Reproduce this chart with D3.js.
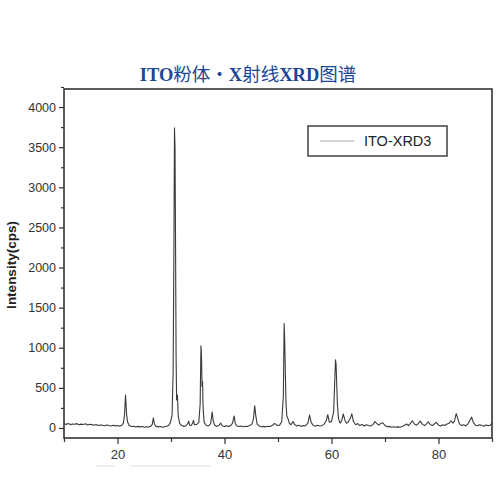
<!DOCTYPE html>
<html>
<head>
<meta charset="utf-8">
<script src="https://cdn.jsdelivr.net/npm/d3@7"></script>
<style>
  body { margin: 0; background: #fff; }
  text { font-family: "Liberation Sans", Arial, sans-serif; }
</style>
</head>
<body>
<script>
// 2-theta (deg) vs intensity (cps)
let xrdPoints = [
  [10.0,52],[10.4,45],[10.8,55],[11.2,42],[11.6,50],[12.0,46],[12.4,54],[12.8,40],[13.2,48],[13.6,44],
  [14.0,52],[14.4,38],[14.8,46],[15.2,42],[15.6,35],[16.0,44],[16.4,30],[16.8,38],[17.2,34],[17.6,28],
  [18.0,36],[18.4,30],[18.8,25],[19.2,33],[19.6,26],[20.0,30],[20.4,22],[20.8,35],[21.1,60],[21.3,150],
  [21.5,410],[21.7,170],[21.9,70],[22.2,30],[22.6,18],[23.0,22],[23.4,12],[23.8,20],[24.2,14],[24.6,18],
  [25.0,10],[25.4,16],[25.8,12],[26.2,20],[26.5,45],[26.7,125],[26.9,50],[27.2,20],[27.6,14],[28.0,18],
  [28.4,10],[28.8,16],[29.2,22],[29.6,35],[29.9,70],[30.2,160],[30.4,700],[30.55,2300],[30.65,3740],[30.75,3500],
  [30.85,2300],[30.95,900],[31.05,350],[31.2,410],[31.35,150],[31.6,60],[32.0,30],[32.4,20],[32.8,28],[33.1,50],
  [33.3,85],[33.5,35],[33.8,30],[34.0,55],[34.2,95],[34.4,40],[34.8,45],[35.2,70],[35.45,300],[35.6,1025],
  [35.7,900],[35.8,520],[35.9,580],[36.0,250],[36.2,70],[36.6,30],[37.0,25],[37.4,50],[37.7,200],[37.9,80],
  [38.2,30],[38.6,20],[39.0,35],[39.3,60],[39.6,25],[40.0,20],[40.4,28],[40.8,20],[41.2,30],[41.5,60],
  [41.8,150],[42.0,60],[42.3,25],[42.7,18],[43.1,24],[43.5,15],[43.9,22],[44.3,18],[44.7,30],[45.1,45],
  [45.4,110],[45.65,275],[45.85,150],[46.1,50],[46.5,22],[46.9,15],[47.3,20],[47.7,14],[48.1,22],[48.5,18],
  [48.9,30],[49.3,55],[49.6,45],[49.9,30],[50.3,35],[50.7,80],[51.0,400],[51.15,1300],[51.25,1100],[51.4,600],
  [51.5,300],[51.65,150],[51.9,110],[52.1,60],[52.4,40],[52.8,80],[53.1,45],[53.5,25],[53.9,35],[54.3,20],
  [54.7,30],[55.1,25],[55.6,60],[55.9,160],[56.2,70],[56.6,30],[57.0,22],[57.4,35],[57.8,25],[58.2,30],
  [58.6,45],[59.0,90],[59.3,165],[59.6,70],[60.0,80],[60.4,200],[60.75,850],[60.85,800],[61.0,500],[61.1,300],
  [61.3,120],[61.6,60],[61.9,90],[62.2,175],[62.5,100],[62.8,60],[63.1,70],[63.5,120],[63.8,175],[64.1,80],
  [64.5,40],[64.9,55],[65.3,30],[65.7,45],[66.1,25],[66.5,40],[66.9,30],[67.3,25],[67.8,45],[68.1,80],
  [68.4,60],[68.8,35],[69.2,55],[69.6,65],[70.0,30],[70.4,15],[70.8,20],[71.2,10],[71.6,15],[72.0,8],
  [72.4,14],[72.8,10],[73.2,18],[73.6,30],[74.0,50],[74.4,30],[74.8,60],[75.1,90],[75.5,50],[75.9,35],
  [76.3,60],[76.6,85],[77.0,45],[77.4,30],[77.8,55],[78.1,75],[78.5,40],[78.9,30],[79.2,50],[79.6,70],
  [80.0,35],[80.4,25],[80.8,40],[81.2,30],[81.6,50],[82.0,60],[82.3,90],[82.7,60],[83.0,90],[83.3,180],
  [83.6,120],[83.9,55],[84.3,30],[84.7,40],[85.1,25],[85.5,50],[85.9,100],[86.2,135],[86.5,70],[86.9,35],
  [87.3,28],[87.7,40],[88.1,30],[88.5,22],[88.9,38],[89.3,28],[89.7,35],[90.0,60]
];
let xMajorTicks = [20, 40, 60, 80];
let xMinorTicks = [10, 30, 50, 70, 90];
let yMajorTicks = [0, 500, 1000, 1500, 2000, 2500, 3000, 3500, 4000];
let yMinorTicks = [250, 750, 1250, 1750, 2250, 2750, 3250, 3750, 4250];
let seriesName = "ITO-XRD3";
let yTitle = "Intensity(cps)";

(function() {
  let svg = d3.select('body').append('svg')
    .attr('width', 500)
    .attr('height', 500);

  let left = 64, right = 492, plotTop = 89, bottom = 438;

  let xScale = d3.scaleLinear().domain([10, 90]).range([left, right]);
  let yScale = d3.scaleLinear().domain([-125, 4225]).range([bottom, plotTop]);

  // title, mixed latin bold + chinese
  let title = svg.append('text')
    .attr('x', 248).attr('y', 81)
    .attr('text-anchor', 'middle')
    .attr('fill', '#1c4797')
    .style('font-size', '18.5px');
  let parts = [["ITO", true], ["粉体・", false], ["X", true], ["射线", false], ["XRD", true], ["图谱", false]];
  parts.forEach(p => {
    title.append('tspan')
      .text(p[0])
      .style('font-family', p[1] ? '"Liberation Serif", serif' : '"Noto Sans CJK SC", sans-serif')
      .style('font-weight', p[1] ? '900' : '400');
  });

  // axes
  let xAxis = d3.axisBottom(xScale).tickValues(xMajorTicks).tickSize(6).tickPadding(6);
  let gx = svg.append('g').attr('transform', `translate(0,${bottom})`).call(xAxis);
  let gxm = svg.append('g').attr('transform', `translate(0,${bottom})`)
    .call(d3.axisBottom(xScale).tickValues(xMinorTicks).tickSize(4).tickFormat(''));

  let yAxis = d3.axisLeft(yScale).tickValues(yMajorTicks).tickFormat(d3.format('d'))
    .tickSize(5).tickPadding(3);
  let gy = svg.append('g').attr('transform', `translate(${left},0)`).call(yAxis);
  let gym = svg.append('g').attr('transform', `translate(${left},0)`)
    .call(d3.axisLeft(yScale).tickValues(yMinorTicks).tickSize(3).tickFormat(''));

  [gx, gxm, gy, gym].forEach(g => {
    g.select('.domain').remove();
    g.selectAll('line').attr('stroke', '#333').attr('stroke-width', 1.2);
    g.selectAll('text').attr('fill', '#333').style('font-size', '13px')
      .style('font-family', '"Liberation Sans", Arial, sans-serif');
  });
  gy.selectAll('text').style('font-size', '12.5px');

  // frame
  svg.append('rect')
    .attr('x', left).attr('y', plotTop)
    .attr('width', right - left).attr('height', bottom - plotTop)
    .attr('fill', 'none').attr('stroke', '#333').attr('stroke-width', 1.6);

  // data line
  let line = d3.line()
    .x(d => xScale(d[0]))
    .y(d => yScale(d[1]));

  svg.append('path')
    .datum(xrdPoints)
    .attr('d', line)
    .attr('fill', 'none')
    .attr('stroke', '#3a3a3a')
    .attr('stroke-width', 1.1)
    .attr('stroke-linejoin', 'round');

  // y title
  svg.append('text')
    .attr('transform', 'translate(16,265) rotate(-90)')
    .attr('text-anchor', 'middle')
    .attr('fill', '#222')
    .style('font-size', '13.5px')
    .style('font-weight', 'bold')
    .text(yTitle);

  // legend
  let lg = svg.append('g').attr('transform', 'translate(308,126)');
  lg.append('rect').attr('width', 139).attr('height', 30)
    .attr('fill', '#fff').attr('stroke', '#333').attr('stroke-width', 1.4);
  lg.append('line').attr('x1', 12).attr('x2', 46).attr('y1', 15).attr('y2', 15)
    .attr('stroke', '#aaa').attr('stroke-width', 1);
  lg.append('text').attr('x', 56).attr('y', 20)
    .attr('fill', '#222').style('font-size', '14.5px')
    .text(seriesName);

  // faint scan marks under the axis
  svg.append('line').attr('x1', 96).attr('x2', 115).attr('y1', 466).attr('y2', 466)
    .attr('stroke', '#ddd');
  svg.append('line').attr('x1', 131).attr('x2', 211).attr('y1', 466).attr('y2', 466)
    .attr('stroke', '#ddd');
})();
</script>
</body>
</html>
